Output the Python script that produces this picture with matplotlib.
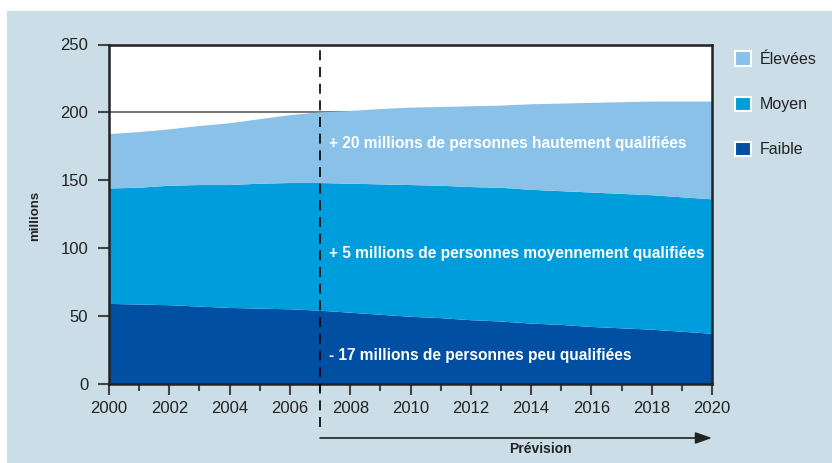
import matplotlib.pyplot as plt
from matplotlib.patches import Rectangle, Patch

# valeurs (millions)
years = list(range(2000, 2021))
faible = [59, 58.5, 58, 57, 56, 55.5, 55, 54, 52.5, 51, 49.5, 48.5, 47, 46, 44.5, 43.5, 42, 41, 40, 38.5, 37]
moyen = [85, 86, 88, 89.5, 90.5, 92, 93, 94, 95, 96, 97, 97.5, 98, 98.5, 98.5, 98.5, 99, 99, 99, 99, 99]
elevees = [40, 41, 41.5, 43.5, 45.5, 47.5, 50, 52, 53.5, 55.5, 57, 58, 59.5, 60.5, 63, 64.5, 66, 67.5, 69, 70.5, 72]
labels = ['Faible', 'Moyen', 'Élevées']
colors = ['#004fa2', '#009ddc', '#89c1e9']
annotations = ['- 17 millions de personnes peu qualifiées',
               '+ 5 millions de personnes moyennement qualifiées',
               '+ 20 millions de personnes hautement qualifiées']
annot_y = [21, 96, 177]

plt.rcParams['font.family'] = ['Liberation Sans', 'DejaVu Sans']
dark = '#222222'

fig = plt.figure(figsize=(8.32, 4.63), dpi=100)
fig.patch.set_facecolor('white')
fig.patches.append(Rectangle((7 / 832, 0), 1, 1 - 11 / 463, transform=fig.transFigure,
                             facecolor='#cbdde7', edgecolor='none', zorder=-10))

ax = fig.add_axes([109 / 832, 79 / 463, 603 / 832, 339.5 / 463])
ax.set_zorder(1)
ax.set_facecolor('white')
ax.stackplot(years, faible, moyen, elevees, colors=colors, linewidth=0, zorder=2)
ax.axhline(200, color='#7a7a7a', lw=1.5, zorder=1)

ax.set_xlim(2000, 2020)
ax.set_ylim(0, 250)
ax.set_xticks(range(2000, 2021, 2))
ax.set_xticks(range(2001, 2020, 2), minor=True)
ax.set_yticks(range(0, 251, 50))
ax.tick_params(axis='both', which='major', length=8, width=1.5, color='#444444',
               labelsize=12, labelcolor=dark)
ax.tick_params(axis='y', pad=7)
ax.tick_params(axis='x', pad=4)
ax.tick_params(axis='x', which='minor', length=5, width=1.5, color='#444444')
for s in ax.spines.values():
    s.set_color(dark)
    s.set_linewidth(1.8)
    s.set_zorder(5)

# ligne de séparation prévision
ax.axvline(2007, ymin=-0.127, ymax=1, color='black', lw=1.2, ls=(0, (6, 4)),
           clip_on=False, zorder=6)
ax.annotate('', xy=(2020, -0.159), xytext=(2007, -0.159),
            xycoords=('data', 'axes fraction'), textcoords=('data', 'axes fraction'),
            arrowprops=dict(arrowstyle='-|>,head_length=1.0,head_width=0.35',
                            color=dark, lw=1.2, shrinkA=0, shrinkB=0),
            annotation_clip=False)
ax.text(2014.3, -0.19, 'Prévision', transform=ax.get_xaxis_transform(),
        ha='center', va='center', fontsize=10, fontweight='bold', color=dark)

for t, y in zip(annotations, annot_y):
    ax.text(2007.3, y, t, color='white', fontsize=11.2, fontweight='bold',
            ha='left', va='center', zorder=7)

fig.text(35 / 832, 1 - 216 / 463, 'millions', rotation=90, ha='center', va='center',
         fontsize=9.5, fontweight='bold', color=dark)

handles = [Patch(facecolor=c, edgecolor='white', linewidth=1.5) for c in colors]
leg = fig.legend(handles[::-1], labels[::-1], loc='upper left',
                 bbox_to_anchor=(721 / 832, 1 - 37 / 463), frameon=False,
                 fontsize=11.5, handlelength=1.0, handleheight=1.0,
                 labelspacing=1.85, handletextpad=0.5)
for t in leg.get_texts():
    t.set_color(dark)

fig.savefig('out.png', dpi=100, facecolor=fig.get_facecolor())
